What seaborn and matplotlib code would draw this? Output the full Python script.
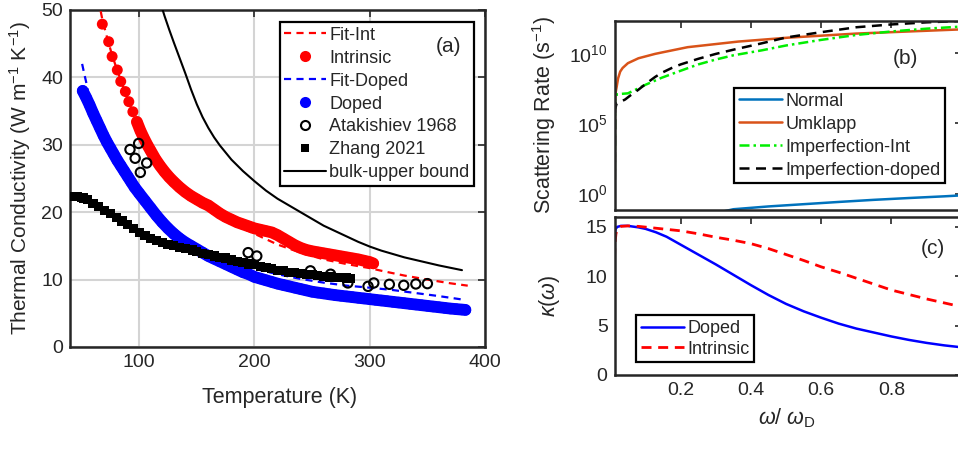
import numpy as np
import matplotlib
matplotlib.use("Agg")
import matplotlib.pyplot as plt
import seaborn as sns
from matplotlib.lines import Line2D
from matplotlib.ticker import FixedLocator, LogLocator, NullFormatter

# ---------------- panel (a): thermal conductivity vs temperature ----------------
fitint_T = [64, 66.4, 68, 72, 76, 80, 85, 90, 95, 100, 110, 120, 130, 140, 160, 180,
            200, 220, 240, 260, 280, 300, 313, 330, 350, 370, 385]
fitint_k = [52.0, 50.0, 48.6, 46.0, 43.6, 41.5, 39.1, 36.8, 34.6, 32.7, 29.3, 26.5, 24.4,
            22.8, 20.4, 18.4, 16.8, 15.2, 14.0, 13.0, 12.3, 11.7, 11.2, 10.6, 10.0, 9.45, 9.1]

int_T = [68, 73.5, 76.5, 81, 84, 88, 91, 94.5, 98, 101, 104, 107, 110, 114, 118, 122, 126,
         130, 135, 140, 145, 150, 155, 160, 165, 170, 175, 180, 185, 190, 195, 200, 205,
         210, 215, 220, 225, 230, 235, 240, 245, 250, 255, 260, 265, 270, 275, 280, 285,
         290, 295, 300, 303]
int_k = [47.9, 45.3, 43.1, 41.1, 39.4, 37.9, 36.4, 34.9, 33.4, 32.1, 31.0, 30.0, 29.1, 27.9,
         26.9, 26.0, 25.2, 24.5, 23.7, 23.0, 22.4, 21.9, 21.4, 21.0, 20.4, 19.8, 19.3, 18.9,
         18.5, 18.2, 17.9, 17.6, 17.4, 17.2, 17.0, 16.6, 16.1, 15.6, 15.1, 14.7, 14.4, 14.2,
         14.05, 13.9, 13.75, 13.6, 13.45, 13.3, 13.15, 13.0, 12.8, 12.6, 12.4]

fitdop_T = [50.5, 52, 54, 57, 60, 65, 70, 80, 90, 100, 110, 120, 130, 140, 150, 160, 170,
            180, 200, 220, 240, 260, 280, 300, 320, 340, 360, 380]
fitdop_k = [42.0, 40.8, 39.3, 36.6, 35.2, 33.2, 31.2, 28.0, 25.1, 22.8, 20.7, 18.9, 17.3,
            16.0, 14.9, 14.1, 13.4, 12.7, 11.6, 10.8, 10.1, 9.55, 9.1, 8.8, 8.45, 8.0, 7.55, 7.05]

dop_T = [51, 54, 57, 60, 63, 66, 69, 72, 75, 78, 81, 84, 87, 90, 93, 96, 100, 105, 110, 115,
         120, 125, 130, 135, 140, 145, 150, 155, 160, 165, 170, 175, 180, 185, 190, 195, 200,
         205, 210, 215, 220, 225, 230, 235, 240, 245, 250, 255, 260, 265, 270, 275, 280, 285,
         290, 295, 300, 305, 310, 315, 320, 325, 330, 335, 340, 345, 350, 355, 360, 365, 370,
         375, 380, 383]
dop_k = [38.0, 37.0, 35.9, 34.7, 33.6, 32.5, 31.4, 30.4, 29.5, 28.6, 27.7, 26.9, 26.1, 25.3,
         24.5, 23.7, 22.8, 21.7, 20.6, 19.5, 18.5, 17.6, 16.8, 16.1, 15.5, 15.0, 14.5, 14.0,
         13.5, 13.1, 12.7, 12.3, 11.9, 11.5, 11.1, 10.8, 10.4, 10.15, 9.9, 9.65, 9.4, 9.2, 9.0,
         8.8, 8.6, 8.4, 8.2, 8.07, 7.95, 7.82, 7.7, 7.6, 7.5, 7.4, 7.3, 7.2, 7.1, 7.0, 6.9, 6.8,
         6.7, 6.6, 6.5, 6.4, 6.3, 6.2, 6.1, 6.0, 5.9, 5.8, 5.7, 5.62, 5.55, 5.5]

atak_T = [92, 96.5, 99.5, 101, 106.5, 194.5, 202, 248.5, 266, 281, 298.5, 303.5, 317, 329.5,
          340, 350]
atak_k = [29.3, 28.0, 30.2, 25.9, 27.3, 14.0, 13.5, 11.3, 10.8, 9.5, 9.0, 9.5, 9.3, 9.15,
          9.35, 9.4]

zhang_T = [41, 43, 46, 50, 52, 55, 60, 65, 70, 75, 80, 85, 90, 95, 100, 105, 110, 115, 120,
           125, 130, 135, 140, 146, 150, 155, 160, 165, 170, 175, 180, 185, 190, 195, 200,
           205, 210, 215, 220, 225, 230, 235, 240, 245, 250, 255, 260, 265, 270, 275, 280, 283]
zhang_k = [22.3, 22.3, 22.3, 22.2, 22.1, 21.9, 21.3, 20.8, 20.3, 19.8, 19.2, 18.7, 18.2,
           17.6, 17.0, 16.5, 16.1, 15.8, 15.5, 15.2, 15.0, 14.8, 14.6, 14.4, 14.2, 13.9, 13.7,
           13.5, 13.3, 13.2, 12.9, 12.7, 12.5, 12.3, 12.2, 12.0, 11.8, 11.6, 11.4, 11.3, 11.1,
           11.0, 10.9, 10.8, 10.7, 10.6, 10.5, 10.4, 10.35, 10.3, 10.25, 10.2]

bulk_T = [118, 122, 126, 130, 135, 140, 145, 150, 155, 160, 165, 170, 180, 190, 200, 210,
          220, 230, 240, 250, 260, 270, 280, 290, 300, 310, 320, 330, 340, 350, 360, 370, 380]
bulk_k = [51.3, 49.1, 47.1, 45.2, 42.9, 40.6, 38.2, 36.0, 34.1, 32.5, 31.1, 29.9, 27.8,
          26.1, 24.6, 23.2, 22.0, 21.0, 20.0, 19.0, 18.0, 17.2, 16.4, 15.6, 14.9, 14.3,
          13.8, 13.3, 12.9, 12.5, 12.1, 11.75, 11.4]

# ---------------- panel (b): scattering rates (log10 of s^-1) ----------------
om_N = [0.30, 0.35, 0.45, 0.55, 0.65, 0.75, 0.85, 0.95, 1.0]
lg_N = [-1.4, -1.12, -0.92, -0.76, -0.6, -0.45, -0.32, -0.2, -0.13]

om_U = [0.0122, 0.0128, 0.013, 0.015, 0.018, 0.022, 0.028, 0.035, 0.05, 0.08, 0.127, 0.146,
        0.22, 0.364, 0.507, 0.6, 0.7, 0.8, 0.9, 1.0]
lg_U = [-1.3, 3.0, 6.5, 7.2, 7.6, 8.2, 8.69, 8.95, 9.29, 9.64, 9.95, 10.05, 10.43, 10.83,
        11.11, 11.25, 11.4, 11.5, 11.6, 11.7]

om_I = [0.0122, 0.0135, 0.018, 0.03, 0.05, 0.08, 0.1, 0.146, 0.2, 0.25, 0.3, 0.35, 0.43, 0.5,
        0.6, 0.7, 0.8, 0.9, 1.0]
lg_I = [-1.3, 6.8, 7.07, 7.1, 7.14, 7.5, 7.75, 8.25, 8.75, 9.2, 9.55, 9.85, 10.2, 10.55,
        10.95, 11.3, 11.55, 11.75, 11.9]

om_D = [0.0122, 0.0135, 0.018, 0.03, 0.042, 0.06, 0.08, 0.1, 0.127, 0.146, 0.175, 0.2, 0.25,
        0.3, 0.35, 0.43, 0.5, 0.6, 0.7, 0.8, 0.9, 1.0]
lg_D = [-1.3, 6.0, 6.43, 6.55, 6.7, 7.05, 7.4, 7.8, 8.3, 8.6, 8.95, 9.2, 9.6, 9.95, 10.25,
        10.7, 11.12, 11.5, 11.85, 12.05, 12.2, 12.3]

# ---------------- panel (c): spectral kappa ----------------
om_cd = [0.012, 0.015, 0.02, 0.03, 0.05, 0.08, 0.1, 0.13, 0.16, 0.2, 0.25, 0.3, 0.35, 0.4,
         0.45, 0.5, 0.55, 0.6, 0.65, 0.7, 0.75, 0.8, 0.85, 0.9, 0.95, 1.0]
k_cd = [14.1, 14.8, 15.0, 15.1, 15.1, 14.95, 14.8, 14.45, 14.0, 13.2, 12.2, 11.2, 10.15,
        9.1, 8.1, 7.2, 6.45, 5.8, 5.2, 4.7, 4.3, 3.9, 3.55, 3.25, 3.0, 2.8]
om_ci = [0.012, 0.013, 0.016, 0.02, 0.03, 0.05, 0.08, 0.12, 0.16, 0.2, 0.25, 0.3, 0.35, 0.4,
         0.45, 0.5, 0.55, 0.6, 0.65, 0.7, 0.75, 0.8, 0.85, 0.9, 0.95, 1.0]
k_ci = [11.8, 13.2, 14.3, 14.8, 15.05, 15.1, 15.05, 14.9, 14.75, 14.6, 14.3, 13.95, 13.65,
        13.3, 12.8, 12.2, 11.6, 10.95, 10.4, 9.8, 9.2, 8.6, 8.15, 7.7, 7.3, 6.9]

sns.set_style("white")
plt.rcParams["font.family"] = ["Liberation Sans", "DejaVu Sans"]
plt.rcParams["mathtext.fontset"] = "custom"
plt.rcParams["mathtext.rm"] = "Liberation Sans"
plt.rcParams["mathtext.it"] = "Liberation Sans:italic"
plt.rcParams["mathtext.bf"] = "Liberation Sans:bold"

DARK = "#262626"
RED, BLUE = "#ff0000", "#0000ff"

fig = plt.figure(figsize=(9.58, 4.5), dpi=100)
axa = fig.add_axes([0.0731, 0.2289, 0.4332, 0.7489])
axb = fig.add_axes([0.6415, 0.5344, 0.3624, 0.4200])
axc = fig.add_axes([0.6415, 0.1667, 0.3624, 0.3511])


def style_axes(ax):
    for sp in ax.spines.values():
        sp.set_color(DARK)
        sp.set_linewidth(1.8)
    ax.tick_params(direction="in", length=5, width=1.2, top=True, right=True,
                   labelsize=14, colors=DARK, pad=5)


# ---- (a)
sns.lineplot(x=fitint_T, y=fitint_k, ax=axa, color=RED, lw=1.6, sort=False,
             estimator=None, linestyle=(0, (3.2, 2.4)), zorder=3)
sns.lineplot(x=int_T[8:], y=int_k[8:], ax=axa, color=RED, lw=8.5, sort=False,
             estimator=None, solid_capstyle="round", zorder=4)
sns.scatterplot(x=int_T, y=int_k, ax=axa, color=RED, s=62, edgecolor="none", zorder=4)
sns.lineplot(x=fitdop_T, y=fitdop_k, ax=axa, color=BLUE, lw=1.6, sort=False,
             estimator=None, linestyle=(0, (3.2, 2.4)), zorder=5)
sns.lineplot(x=dop_T, y=dop_k, ax=axa, color=BLUE, lw=8.5, sort=False,
             estimator=None, solid_capstyle="round", zorder=6)
sns.scatterplot(x=dop_T, y=dop_k, ax=axa, color=BLUE, s=66, edgecolor="none", zorder=6)
sns.scatterplot(x=atak_T, y=atak_k, ax=axa, color="k", s=45, marker="o",
                facecolors="none", edgecolor="k", linewidth=1.5, zorder=7)
sns.scatterplot(x=zhang_T, y=zhang_k, ax=axa, color="k", s=44, marker="s",
                edgecolor="none", zorder=8)
sns.lineplot(x=bulk_T, y=bulk_k, ax=axa, color="k", lw=1.5, sort=False,
             estimator=None, zorder=9)

axa.set_xlim(40, 400)
axa.set_ylim(0, 50)
axa.xaxis.set_major_locator(FixedLocator([100, 200, 300, 400]))
axa.yaxis.set_major_locator(FixedLocator([0, 10, 20, 30, 40, 50]))
axa.grid(True, color="#d4d4d4", lw=1.5)
axa.set_axisbelow(True)
style_axes(axa)
axa.set_xlabel("Temperature (K)", fontsize=15.5, color=DARK)
axa.set_ylabel("Thermal Conductivity (W m$^{-1}$ K$^{-1}$)", fontsize=15, color=DARK)
axa.xaxis.set_label_coords(0.505, -0.119)
axa.yaxis.set_label_coords(-0.089, 0.5)

dash_a = (0, (3.2, 2.4))
handles_a = [
    Line2D([], [], color=RED, lw=1.6, linestyle=dash_a),
    Line2D([], [], color=RED, marker="o", ms=8, lw=0, markeredgewidth=0),
    Line2D([], [], color=BLUE, lw=1.6, linestyle=dash_a),
    Line2D([], [], color=BLUE, marker="o", ms=8, lw=0, markeredgewidth=0),
    Line2D([], [], color="k", marker="o", ms=6.5, lw=0, mfc="none", mew=1.5),
    Line2D([], [], color="k", marker="s", ms=6, lw=0, markeredgewidth=0),
    Line2D([], [], color="k", lw=1.5),
]
labels_a = ["Fit-Int", "Intrinsic", "Fit-Doped", "Doped", "Atakishiev 1968", "Zhang 2021",
            "bulk-upper bound"]
leg = axa.legend(handles_a, labels_a, loc="upper right", bbox_to_anchor=(0.974, 0.964),
                 borderaxespad=0, fontsize=13, frameon=True, fancybox=False,
                 edgecolor="k", framealpha=1, borderpad=0.25, labelspacing=0.33,
                 handlelength=2.3, handletextpad=0.2)
leg.get_frame().set_linewidth(1.6)
leg.set_zorder(20)
axa.text(0.911, 0.893, "(a)", transform=axa.transAxes, fontsize=15, color=DARK,
         ha="center", va="center", zorder=30)

# ---- (b)
sns.lineplot(x=om_N, y=10 ** np.array(lg_N), ax=axb, color="#0072bd", lw=1.8,
             sort=False, estimator=None)
sns.lineplot(x=om_U, y=10 ** np.array(lg_U), ax=axb, color="#d95319", lw=1.8,
             sort=False, estimator=None)
sns.lineplot(x=om_I, y=10 ** np.array(lg_I), ax=axb, color="#00ee00", lw=1.8,
             sort=False, estimator=None, linestyle=(0, (4, 1.6, 1, 1.6)))
sns.lineplot(x=om_D, y=10 ** np.array(lg_D), ax=axb, color="k", lw=1.8,
             sort=False, estimator=None, linestyle=(0, (4, 2.6)))
axb.set_yscale("log")
axb.set_xlim(0.012, 1.0)
axb.set_ylim(10 ** -1.14, 10 ** 12.33)
axb.xaxis.set_major_locator(FixedLocator([0.2, 0.4, 0.6, 0.8, 1.0]))
axb.xaxis.set_major_formatter(NullFormatter())
axb.yaxis.set_major_locator(FixedLocator([1, 1e5, 1e10]))
axb.yaxis.set_minor_locator(LogLocator(base=10, subs=(1.0,), numticks=30))
axb.yaxis.set_minor_formatter(NullFormatter())
style_axes(axb)
axb.tick_params(which="minor", direction="in", length=3, width=1.0, right=True, colors=DARK)
axb.set_ylabel("Scattering Rate (s$^{-1}$)", fontsize=15.5, color=DARK)
axb.yaxis.set_label_coords(-0.163, 0.5)
handles_b = [
    Line2D([], [], color="#0072bd", lw=1.8),
    Line2D([], [], color="#d95319", lw=1.8),
    Line2D([], [], color="#00ee00", lw=1.8, linestyle=(0, (4, 1.6, 1, 1.6))),
    Line2D([], [], color="k", lw=1.8, linestyle=(0, (4, 2.6))),
]
legb = axb.legend(handles_b, ["Normal", "Umklapp", "Imperfection-Int", "Imperfection-doped"],
                  loc="lower left", bbox_to_anchor=(0.344, 0.14), borderaxespad=0,
                  fontsize=13, frameon=True, fancybox=False, edgecolor="k", framealpha=1,
                  borderpad=0.25, labelspacing=0.33, handlelength=2.4, handletextpad=0.2)
legb.get_frame().set_linewidth(1.6)
axb.text(0.837, 0.80, "(b)", transform=axb.transAxes, fontsize=15, color=DARK,
         ha="center", va="center")

# ---- (c)
sns.lineplot(x=om_cd, y=k_cd, ax=axc, color=BLUE, lw=1.8, sort=False, estimator=None)
sns.lineplot(x=om_ci, y=k_ci, ax=axc, color=RED, lw=2.0, sort=False, estimator=None,
             linestyle=(0, (3.6, 2.4)))
axc.set_xlim(0.012, 1.0)
axc.set_ylim(0, 16)
axc.xaxis.set_major_locator(FixedLocator([0.2, 0.4, 0.6, 0.8, 1.0]))
axc.set_xticklabels(["0.2", "0.4", "0.6", "0.8", "1"])
axc.yaxis.set_major_locator(FixedLocator([0, 5, 10, 15]))
style_axes(axc)
axc.set_xlabel(r"$\omega$/ $\omega_\mathrm{D}$", fontsize=15.5, color=DARK)
axc.set_ylabel(r"$\kappa(\omega)$", fontsize=15.5, color=DARK)
axc.xaxis.set_label_coords(0.497, -0.2)
axc.yaxis.set_label_coords(-0.151, 0.5)
handles_c = [
    Line2D([], [], color=BLUE, lw=1.8),
    Line2D([], [], color=RED, lw=2.0, linestyle=(0, (3.6, 2.4))),
]
legc = axc.legend(handles_c, ["Doped", "Intrinsic"], loc="lower left",
                  bbox_to_anchor=(0.062, 0.082), borderaxespad=0, fontsize=13,
                  frameon=True, fancybox=False, edgecolor="k", framealpha=1,
                  borderpad=0.25, labelspacing=0.2, handlelength=2.4, handletextpad=0.2)
legc.get_frame().set_linewidth(1.6)
axc.text(0.918, 0.80, "(c)", transform=axc.transAxes, fontsize=15, color=DARK,
         ha="center", va="center")

fig.savefig("out.png", dpi=100)
